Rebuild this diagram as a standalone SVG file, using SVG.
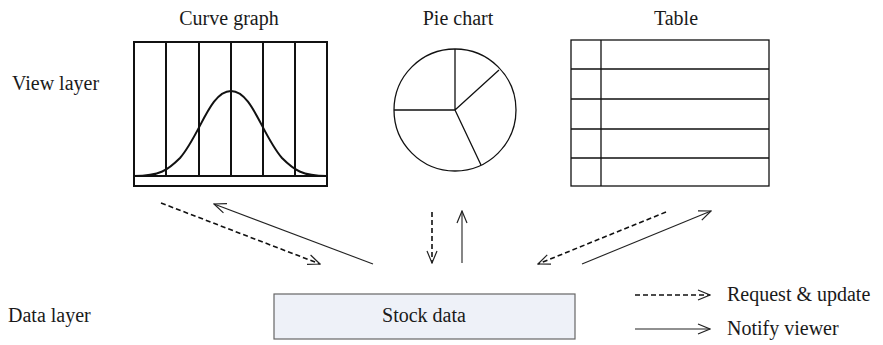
<svg xmlns="http://www.w3.org/2000/svg" width="883" height="345" viewBox="0 0 883 345">
  <style>
    .lbl { font-family: "Liberation Serif", "Times New Roman", serif; font-size: 20px; fill: #1a1a1a; }
    .frame { fill: none; stroke: #111; stroke-width: 2; }
    .thin { fill: none; stroke: #111; stroke-width: 1.3; }
    .conn { fill: none; stroke: #222; stroke-width: 1.1; }
    .dash { fill: none; stroke: #111; stroke-width: 1.6; stroke-dasharray: 5 3; }
  </style>
  <defs>
    <marker id="open" viewBox="0 0 14 12" refX="13" refY="6" markerWidth="14" markerHeight="12" markerUnits="userSpaceOnUse" orient="auto">
      <path d="M1,1 L13,6 L1,11" fill="none" stroke="#222" stroke-width="1.2"/>
    </marker>
  </defs>

  <rect width="883" height="345" fill="#ffffff"/>

  <!-- titles -->
  <text class="lbl" x="229" y="25" text-anchor="middle">Curve graph</text>
  <text class="lbl" x="458" y="25" text-anchor="middle">Pie chart</text>
  <text class="lbl" x="676" y="25" text-anchor="middle">Table</text>
  <text class="lbl" x="12" y="90">View layer</text>
  <text class="lbl" x="8" y="322">Data layer</text>

  <!-- curve graph -->
  <g id="curve-graph">
    <rect class="frame" x="134" y="42" width="193" height="144"/>
    <line class="frame" x1="134" y1="176" x2="327" y2="176"/>
    <path class="frame" d="M166,42V176 M199,42V176 M231,42V176 M263,42V176 M295,42V176"/>
    <path class="frame" d="M134,176 C160,176 168,170 180,158 C200,135 210,91 231,91 C252,91 262,135 282,158 C294,170 302,176 327,176"/>
  </g>

  <!-- pie chart -->
  <g id="pie-chart">
    <circle class="thin" cx="455" cy="110" r="61"/>
    <path class="thin" d="M455,110 L455,49 M455,110 L394,110 M455,110 L499,70 M455,110 L481,165"/>
  </g>

  <!-- table -->
  <g id="table">
    <rect class="thin" x="571" y="40" width="198" height="146"/>
    <path class="thin" d="M601,40V186 M571,69H769 M571,99H769 M571,129H769 M571,158H769"/>
  </g>

  <!-- data store -->
  <g id="stock-data">
    <rect x="274" y="294" width="301" height="45" fill="#eef1f8" stroke="#666" stroke-width="1.2"/>
    <text class="lbl" x="424" y="322" text-anchor="middle" fill="#333">Stock data</text>
  </g>

  <!-- connectors -->
  <g id="connectors">
    <line class="dash" x1="161" y1="203" x2="320" y2="264" marker-end="url(#open)"/>
    <line class="conn" x1="373" y1="264" x2="214" y2="204" marker-end="url(#open)"/>
    <line class="dash" x1="432" y1="212" x2="432" y2="263" marker-end="url(#open)"/>
    <line class="conn" x1="462" y1="263" x2="462" y2="211" marker-end="url(#open)"/>
    <line class="dash" x1="666" y1="212" x2="538" y2="264" marker-end="url(#open)"/>
    <line class="conn" x1="582" y1="264" x2="711" y2="211" marker-end="url(#open)"/>
  </g>

  <!-- legend -->
  <g id="legend">
    <line class="dash" x1="635" y1="295" x2="710" y2="295" stroke-width="1.3" marker-end="url(#open)"/>
    <text class="lbl" x="727" y="301">Request &amp; update</text>
    <line class="conn" x1="635" y1="329" x2="710" y2="329" marker-end="url(#open)"/>
    <text class="lbl" x="727" y="335">Notify viewer</text>
  </g>
</svg>
